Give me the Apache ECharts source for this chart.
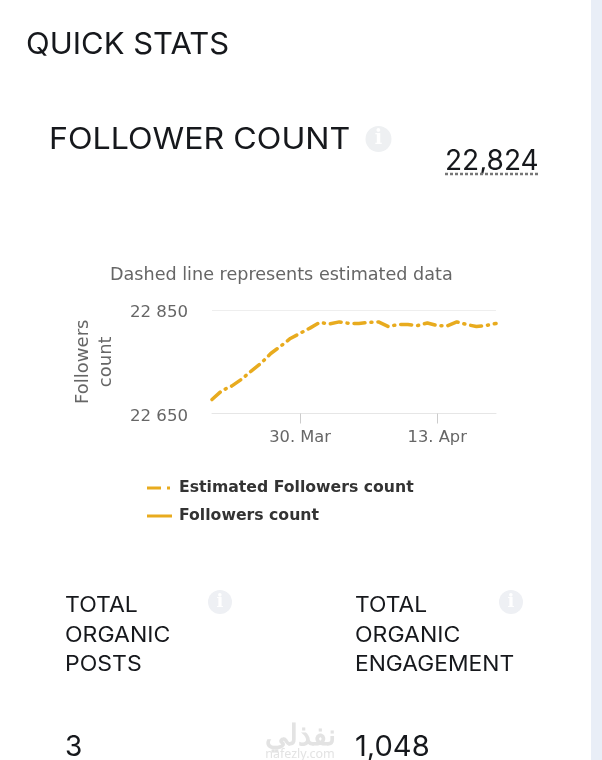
<!DOCTYPE html>
<html>
<head>
<meta charset="utf-8">
<style>html,body{margin:0;padding:0;background:#fff}#c{width:602px;height:760px}</style>
<script src="https://cdn.jsdelivr.net/npm/echarts@6/dist/echarts.min.js"></script>
</head>
<body>
<div id="c"></div>
<script>
const days = ['21. Mar','22. Mar','23. Mar','24. Mar','25. Mar','26. Mar','27. Mar','28. Mar','29. Mar','30. Mar','31. Mar','1. Apr','2. Apr','3. Apr','4. Apr','5. Apr','6. Apr','7. Apr','8. Apr','9. Apr','10. Apr','11. Apr','12. Apr','13. Apr','14. Apr','15. Apr','16. Apr','17. Apr','18. Apr','19. Apr'];
const estimated = [22677,22694,22703,22716,22732,22747,22766,22780,22795,22805,22815,22826,22823,22827,22824,22824,22826,22827,22818,22822,22822,22820,22825,22820,22819,22827,22822,22818,22820,22824];
const actual = [];
const shownDays = ['30. Mar','13. Apr'];
const yTicks = {min:22650,max:22850,interval:200};
const seriesNames = ['Estimated Followers count','Followers count'];
const lineColor = '#e8ab1e';
const head = 'Inter';
const dark = '#16181c';
function t(x,y,text,size,sx,opts){return {type:'text',x:x,y:y,scaleX:sx||1,silent:true,style:Object.assign({text:text,font:'400 '+size+'px '+head,fill:dark,textVerticalAlign:'middle'},opts||{})};}
function info(cx,cy,r,fill,c){return [
 {type:'circle',shape:{cx:cx,cy:cy,r:r},style:{fill:fill},silent:true},
 {type:'text',x:cx,y:cy,silent:true,style:{text:'i',font:'bold '+(r*1.5)+'px "DejaVu Serif"',fill:c,textAlign:'center',textVerticalAlign:'middle'}}
];}
const chart = echarts.init(document.getElementById('c'));
chart.setOption({
 animation:false,
 backgroundColor:'#fff',
 title:{text:'Dashed line represents estimated data',left:105,top:261,textStyle:{fontFamily:'DejaVu Sans',fontSize:17.6,fontWeight:'normal',color:'#666'}},
 legend:{orient:'vertical',left:142,top:475,itemWidth:25,itemHeight:10,itemGap:12,icon:'path://M0 3.5H25V6.5H0Z',
  data:[{name:seriesNames[0],icon:'path://M0 3.5H14V6.5H0Z M20 3.5H23V6.5H20Z M25 3.5H25V6.5H25Z'},{name:seriesNames[1]}],
  textStyle:{fontFamily:'DejaVu Sans',fontSize:15.7,fontWeight:'bold',color:'#333',padding:[0,0,0,2]}},
 grid:{left:212,top:310,width:284,height:103.5},
 xAxis:{type:'category',data:days,boundaryGap:false,
  axisLine:{lineStyle:{color:'#e6e6e6'}},
  axisTick:{length:10,lineStyle:{color:'#ccc'},interval:(i,v)=>shownDays.includes(v)},
  axisLabel:{interval:(i,v)=>shownDays.includes(v),margin:16,fontFamily:'DejaVu Sans',fontSize:16.3,color:'#666'},
  splitLine:{show:false}},
 yAxis:{type:'value',min:yTicks.min,max:yTicks.max,interval:yTicks.interval,
  name:'Followers\ncount',nameLocation:'middle',nameGap:94,nameRotate:90,
  nameTextStyle:{fontFamily:'DejaVu Sans',fontSize:18,color:'#666',lineHeight:23},
  axisLine:{show:false},axisTick:{show:false},
  axisLabel:{margin:24,verticalAlign:'top',lineHeight:6,fontFamily:'DejaVu Sans',fontSize:16.6,color:'#666',formatter:v=>String(v).replace(/(\d\d)(\d{3})/,'$1 $2')},
  splitLine:{lineStyle:{color:'#eeeeee'}}},
 series:[
  {name:seriesNames[0],type:'line',data:estimated,showSymbol:false,smooth:false,lineStyle:{color:lineColor,width:3.5,type:[11,6,1,6],cap:'round'},itemStyle:{color:lineColor}},
  {name:seriesNames[1],type:'line',data:actual,showSymbol:false,lineStyle:{color:lineColor,width:3},itemStyle:{color:lineColor}}
 ],
 graphic:[
  {type:'rect',shape:{x:591,y:0,width:11,height:760},style:{fill:'#e9eef7'},silent:true},
  t(26,45,'QUICK STATS',29.5,1.05),
  t(49,140,'FOLLOWER COUNT',29.5,1.09),
  ...info(378.5,139,13,'#eef0f2','#fff'),
  t(445,162,'22,824',28),
  {type:'line',shape:{x1:445,y1:174,x2:538,y2:174},style:{stroke:'#777',lineWidth:2.5,lineDash:[3,2]},silent:true},
  t(65,606,'TOTAL',21.5,1.07),t(65,636,'ORGANIC',21.5,1.07),t(65,665,'POSTS',21.5,1.07),
  ...info(220,602,12,'#eef0f4','#fff'),
  t(355,606,'TOTAL',21.5,1.06),t(355,636,'ORGANIC',21.5,1.07),t(355,665,'ENGAGEMENT',21.5,1.06),
  ...info(511,602,12,'#eef0f4','#fff'),
  t(65,748,'3',28),t(355,748,'1,048',28,1.04),
  t(300,737,'نفذلي',29,1,{fill:'#e3e3e3',textAlign:'center',font:'bold 29px "Noto Sans"'}),
  t(300,754,'nafezly.com',12.5,1,{fill:'#e3e3e3',textAlign:'center',font:'400 12.5px "Noto Sans"'})
 ]
});
</script>
</body>
</html>
